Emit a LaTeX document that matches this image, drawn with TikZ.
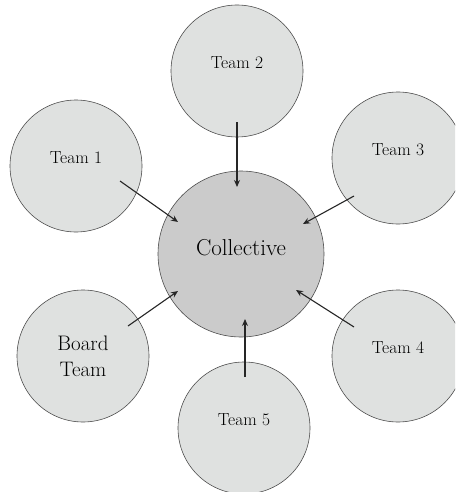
\documentclass[tikz,border=0pt]{standalone}
\usetikzlibrary{calc, arrows.meta}

\begin{document}
\begin{tikzpicture}[x=1pt, y=-1pt,
    team/.style={circle, draw=black!70, line width=0.6pt, fill=teamgray, minimum size=132pt, inner sep=0},
    arr/.style={-{Stealth[length=7pt, width=6pt]}, line width=1.1pt, black!85},
    lbl/.style={font=\fontsize{17.5}{20}\selectfont, yshift=8pt}]
\definecolor{teamgray}{HTML}{DFE1E0}
\definecolor{collgray}{HTML}{CBCBCB}

% Frame
\useasboundingbox (0,0) rectangle (455,492);
\clip (0,0) rectangle (455,492);

% Collective
\node[team, fill=collgray, minimum size=166pt,
    label={[font=\fontsize{23}{26}\selectfont, yshift=6pt]center:Collective}] (coll) at (241,254) {};

% Teams
\node[team, label={[lbl]center:Team 1}] (t1) at (76,166) {};
\node[team, label={[lbl]center:Team 2}] (t2) at (237,71) {};
\node[team, label={[lbl]center:Team 3}] (t3) at (398,158) {};
\node[team, label={[lbl]center:Team 4}] (t4) at (398,356) {};
\node[team, label={[lbl]center:Team 5}] (t5) at (244,428) {};
\node[team, align=center, font=\fontsize{21}{26}\selectfont] (bt) at (83,356) {Board\\Team};

% Arrows into the collective
\draw[arr] ($(t1)+(44,15)$) -- ($(coll)+(-63,-32)$);
\draw[arr] ($(t2)+(0,51)$) -- ($(coll)+(-4,-67)$);
\draw[arr] ($(t3)+(-44,38)$) -- ($(coll)+(62,-30)$);
\draw[arr] ($(t4)+(-44,-29)$) -- ($(coll)+(55,36)$);
\draw[arr] ($(t5)+(1,-51)$) -- ($(coll)+(4,65)$);
\draw[arr] ($(bt)+(45,-30)$) -- ($(coll)+(-63,37)$);
\end{tikzpicture}
\end{document}
